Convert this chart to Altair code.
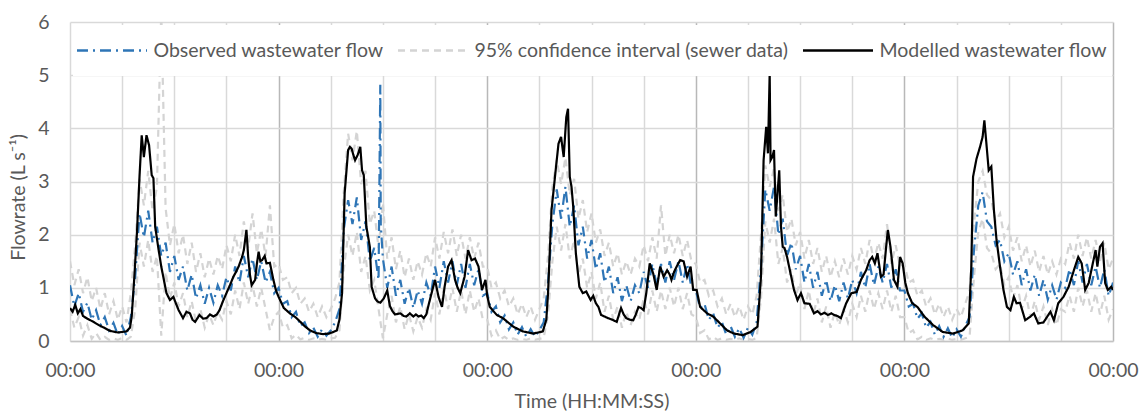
import altair as alt
import numpy as np
import pandas as pd

SERIES = ["Observed wastewater flow", "95% confidence interval (sewer data)", "Modelled wastewater flow"]
COLORS = ["#2e75b6", "#d4d4d4", "#000000"]
DASHES = [[11, 5, 2, 5], [7, 5], [1, 0]]

# Observed flow, sampled every 0.5 h (L/s)
obs_day1 = [1.05, 0.65, 0.90, 0.55, 0.72, 0.40, 0.58, 0.30, 0.45, 0.20, 0.34, 0.12, 0.28, 0.10, 0.45,
            1.20, 2.40, 1.95, 2.45, 1.85, 2.15, 1.60, 1.85, 1.30, 1.60,
            1.15, 1.40, 0.95, 1.25, 0.80, 1.05, 0.70, 1.00, 0.72, 1.05,
            0.85, 1.20, 0.95, 1.40, 1.10, 1.60, 1.20, 1.55, 1.15, 1.50,
            1.10, 1.30, 0.90]
obs_day2 = [1.00, 0.70, 0.75, 0.45, 0.55, 0.28, 0.35, 0.15, 0.25, 0.08, 0.22, 0.10, 0.20, 0.35, 0.60,
            2.10, 2.65, 2.20, 2.70, 1.90, 2.25, 1.50, 1.75, 1.15, 1.55,
            1.00, 1.40, 0.85, 1.15, 0.70, 1.00, 0.62, 0.95, 0.70, 1.10,
            0.85, 1.40, 1.00, 1.50, 1.10, 1.50, 1.05, 1.45, 1.00, 1.45,
            1.05, 1.35, 0.85]
obs_day3 = [0.90, 0.55, 0.65, 0.35, 0.48, 0.22, 0.35, 0.12, 0.26, 0.08, 0.22, 0.08, 0.20, 0.35, 1.10,
            2.20, 2.85, 2.30, 2.90, 2.15, 2.55, 1.80, 2.15, 1.55, 1.90,
            1.35, 1.65, 1.10, 1.40, 0.90, 1.20, 0.75, 1.05, 0.75, 1.05,
            0.90, 1.30, 1.00, 1.45, 1.05, 1.45, 1.10, 1.50, 1.15, 1.50,
            1.10, 1.45, 1.00]
obs_day4 = [0.95, 0.62, 0.70, 0.40, 0.52, 0.25, 0.36, 0.12, 0.28, 0.08, 0.24, 0.06, 0.25, 0.12, 0.35,
            1.40, 2.85, 2.45, 2.90, 2.00, 2.30, 1.60, 1.85, 1.35, 1.60,
            1.10, 1.45, 1.00, 1.30, 0.85, 1.15, 0.75, 1.05, 0.75, 1.10,
            0.80, 1.15, 0.90, 1.30, 1.00, 1.45, 1.05, 1.40, 1.10, 1.45,
            1.00, 1.35, 0.95]
obs_day5 = [0.95, 0.65, 0.70, 0.42, 0.52, 0.25, 0.36, 0.12, 0.28, 0.08, 0.24, 0.06, 0.22, 0.08, 0.28, 0.45,
            1.70, 2.55, 2.80, 2.25, 2.15, 1.80, 1.90, 1.50, 1.65, 1.25,
            1.50, 1.05, 1.35, 0.95, 1.25, 0.85, 1.15, 0.78, 1.05, 0.78,
            1.10, 1.00, 1.35, 1.05, 1.50, 1.10, 1.45, 1.05, 1.40, 1.00,
            1.35, 0.85, 1.10]
# isolated spike in the observed record
spike_hours = [35.7, 35.75]
spike_values = [4.82, 2.20]

# 95% confidence interval, upper bound (every 0.5 h)
up_day1 = [1.50, 1.05, 1.35, 0.90, 1.20, 0.75, 1.00, 0.60, 0.90, 0.50, 0.75, 0.40, 0.65, 0.35, 0.90,
           1.80, 3.05, 2.55, 3.20, 2.45, 2.90, 6.20, 2.50, 1.80, 2.20,
           1.65, 2.00, 1.45, 1.85, 1.30, 1.65, 1.20, 1.55, 1.25, 1.60,
           1.35, 1.80, 1.50, 2.00, 1.60, 2.25, 1.75, 2.40, 1.65, 2.10,
           1.60, 2.55, 1.40]
up_day2 = [1.45, 1.15, 1.20, 0.90, 1.00, 0.70, 0.80, 0.55, 0.70, 0.45, 0.65, 0.45, 0.60, 0.80, 1.10,
           2.80, 3.90, 3.40, 3.95, 2.95, 3.20, 2.20, 2.45, 1.75, 2.60,
           1.55, 1.95, 1.35, 1.70, 1.20, 1.55, 1.15, 1.50, 1.25, 1.65,
           1.40, 1.95, 1.55, 2.05, 1.65, 2.10, 1.60, 2.00, 1.55, 1.95,
           1.55, 1.85, 1.40]
up_day3 = [1.40, 1.00, 1.10, 0.80, 0.95, 0.65, 0.80, 0.50, 0.70, 0.45, 0.65, 0.40, 0.60, 0.80, 1.60,
           2.90, 3.40, 2.95, 3.45, 2.75, 3.05, 2.30, 2.65, 2.05, 2.40,
           1.85, 2.10, 1.60, 1.85, 1.40, 1.65, 1.25, 1.50, 1.25, 1.55,
           1.40, 1.80, 1.50, 1.95, 1.55, 2.55, 1.60, 2.00, 1.65, 2.00,
           1.60, 1.90, 1.50]
up_day4 = [1.45, 1.10, 1.15, 0.85, 0.95, 0.65, 0.80, 0.50, 0.70, 0.45, 0.65, 0.40, 0.65, 0.50, 0.85,
           2.00, 3.30, 2.90, 3.25, 2.45, 2.75, 2.05, 2.30, 1.80, 2.05,
           1.55, 1.90, 1.45, 1.75, 1.30, 1.60, 1.20, 1.50, 1.20, 1.55,
           1.25, 1.60, 1.35, 1.75, 1.45, 1.90, 1.50, 1.85, 1.55, 2.20,
           1.45, 1.80, 1.40]
up_day5 = [1.45, 1.10, 1.15, 0.85, 0.95, 0.65, 0.80, 0.50, 0.70, 0.45, 0.65, 0.40, 0.60, 0.45, 0.70, 0.95,
           2.20, 3.00, 3.20, 2.75, 2.65, 2.25, 2.40, 1.95, 2.15, 1.70,
           1.95, 1.50, 1.80, 1.40, 1.70, 1.30, 1.60, 1.25, 1.50, 1.25,
           1.55, 1.45, 1.85, 1.55, 2.00, 1.60, 1.95, 1.55, 1.90, 1.50,
           1.85, 1.35, 1.55]

# 95% confidence interval, lower bound (every 0.5 h)
lo_day1 = [0.60, 0.25, 0.45, 0.10, 0.30, 0.04, 0.15, 0.02, 0.08, 0.02, 0.05, 0.02, 0.06, 0.02, 0.08,
           0.60, 1.85, 1.40, 1.90, 1.30, 1.60, 0.10, 1.30, 0.80, 1.10,
           0.65, 0.90, 0.45, 0.75, 0.35, 0.60, 0.25, 0.50, 0.30, 0.55,
           0.40, 0.75, 0.50, 0.95, 0.60, 1.10, 0.70, 1.05, 0.65, 1.00,
           0.60, 0.20, 0.45]
lo_day2 = [0.55, 0.25, 0.30, 0.05, 0.12, 0.03, 0.06, 0.02, 0.05, 0.02, 0.04, 0.02, 0.05, 0.06, 0.20,
           1.35, 2.00, 1.60, 2.05, 1.30, 1.60, 0.95, 1.15, 0.60, 0.05,
           0.50, 0.85, 0.35, 0.65, 0.22, 0.50, 0.18, 0.45, 0.25, 0.60,
           0.40, 0.90, 0.50, 1.00, 0.60, 1.00, 0.55, 0.95, 0.50, 0.95,
           0.55, 0.80, 0.40]
lo_day3 = [0.40, 0.10, 0.20, 0.03, 0.08, 0.02, 0.05, 0.02, 0.04, 0.02, 0.05, 0.02, 0.04, 0.06, 0.50,
           1.50, 2.15, 1.70, 2.20, 1.55, 1.90, 1.25, 1.55, 1.00, 1.30,
           0.80, 1.10, 0.55, 0.85, 0.40, 0.65, 0.25, 0.55, 0.30, 0.55,
           0.40, 0.80, 0.50, 0.95, 0.55, 0.95, 0.60, 1.00, 0.65, 1.00,
           0.60, 0.90, 0.50]
lo_day4 = [0.45, 0.15, 0.20, 0.03, 0.08, 0.02, 0.05, 0.02, 0.04, 0.02, 0.05, 0.02, 0.04, 0.02, 0.06,
           0.80, 2.25, 1.85, 2.30, 1.45, 1.75, 1.10, 1.35, 0.85, 1.10,
           0.60, 0.95, 0.50, 0.80, 0.35, 0.65, 0.25, 0.55, 0.30, 0.60,
           0.35, 0.70, 0.45, 0.85, 0.55, 0.95, 0.60, 0.90, 0.60, 0.95,
           0.55, 0.85, 0.45]
lo_day5 = [0.45, 0.15, 0.20, 0.03, 0.08, 0.02, 0.05, 0.02, 0.04, 0.02, 0.05, 0.02, 0.04, 0.02, 0.05, 0.08,
           1.20, 2.05, 2.30, 1.75, 1.65, 1.35, 1.45, 1.05, 1.20, 0.80,
           1.05, 0.60, 0.85, 0.45, 0.75, 0.40, 0.65, 0.30, 0.60, 0.30,
           0.60, 0.55, 0.85, 0.55, 1.00, 0.65, 0.95, 0.55, 0.90, 0.50,
           0.85, 0.40, 0.60]

# Modelled flow: (hour, L/s)
mod_points = [
    (0.0, 0.62), (0.3, 0.55), (0.6, 0.68), (0.9, 0.52), (1.2, 0.60), (1.5, 0.47), (2.0, 0.42),
    (2.7, 0.36), (3.3, 0.30), (3.8, 0.26), (4.6, 0.19), (5.5, 0.16), (6.5, 0.18), (6.9, 0.25),
    (7.1, 0.46), (7.4, 1.20), (7.7, 2.03), (8.0, 3.10), (8.25, 3.87), (8.5, 3.46), (8.8, 3.87),
    (9.1, 3.68), (9.4, 3.12), (9.6, 3.06), (9.8, 2.15), (10.2, 1.71), (10.5, 1.40), (10.8, 1.15),
    (11.1, 0.90), (11.5, 0.77), (11.9, 0.83), (12.2, 0.70), (12.5, 0.58), (13.0, 0.43), (13.4, 0.55),
    (13.8, 0.52), (14.1, 0.40), (14.4, 0.36), (14.9, 0.49), (15.3, 0.42), (15.7, 0.43), (16.1, 0.50),
    (16.5, 0.46), (16.9, 0.50), (17.2, 0.58), (17.6, 0.75), (18.0, 0.90), (18.4, 1.05), (18.8, 1.21),
    (19.1, 1.30), (19.4, 1.40), (19.8, 1.58), (20.0, 1.71), (20.3, 2.09), (20.5, 1.58), (20.7, 1.25),
    (20.9, 1.05), (21.3, 1.15), (21.5, 1.45), (21.7, 1.68), (21.9, 1.50), (22.1, 1.52), (22.4, 1.60),
    (22.6, 1.46), (23.0, 1.47), (23.4, 1.15), (23.7, 0.95), (24.0, 0.83), (24.6, 0.62), (25.3, 0.52),
    (26.0, 0.44), (26.5, 0.36), (27.0, 0.28), (27.6, 0.20), (28.3, 0.15), (29.1, 0.13), (29.8, 0.14),
    (30.3, 0.17), (30.7, 0.20), (31.0, 0.40), (31.3, 0.90), (31.6, 2.78), (32.0, 3.59), (32.2, 3.65),
    (32.4, 3.62), (32.6, 3.50), (32.8, 3.40), (33.1, 3.50), (33.4, 3.65), (33.6, 3.21), (33.8, 3.12),
    (34.1, 2.15), (34.5, 1.77), (34.7, 1.02), (35.1, 0.80), (35.4, 0.74), (35.7, 0.72), (36.1, 0.80),
    (36.5, 0.95), (36.8, 0.66), (37.1, 0.56), (37.4, 0.50), (38.0, 0.52), (38.4, 0.47), (38.7, 0.46),
    (39.1, 0.52), (39.5, 0.46), (39.8, 0.50), (40.1, 0.46), (40.4, 0.48), (40.7, 0.43), (41.0, 0.50),
    (41.2, 0.64), (41.6, 0.90), (42.0, 1.15), (42.4, 0.83), (42.8, 0.64), (43.1, 1.02), (43.5, 1.40),
    (43.9, 1.52), (44.3, 1.15), (44.6, 1.00), (44.9, 0.90), (45.4, 1.21), (45.8, 1.71), (46.2, 1.52),
    (46.6, 1.55), (47.0, 1.40), (47.4, 0.96), (47.8, 1.15), (48.0, 0.85), (48.3, 0.64), (49.1, 0.49),
    (49.8, 0.43), (50.4, 0.35), (51.0, 0.27), (52.1, 0.18), (53.3, 0.14), (54.4, 0.18), (54.8, 0.40),
    (55.0, 0.90), (55.4, 2.46), (55.8, 3.09), (56.2, 3.71), (56.5, 3.84), (56.8, 3.46), (57.1, 4.21),
    (57.3, 4.37), (57.5, 3.09), (57.7, 2.90), (57.9, 2.52), (58.2, 1.65), (58.6, 1.02), (59.0, 0.90),
    (59.4, 0.93), (59.9, 0.77), (60.2, 0.85), (60.5, 0.71), (60.8, 0.64), (61.1, 0.49), (61.5, 0.46),
    (61.9, 0.43), (62.4, 0.40), (62.9, 0.36), (63.4, 0.62), (63.7, 0.50), (64.0, 0.43), (64.4, 0.40),
    (64.8, 0.39), (65.1, 0.50), (65.4, 0.64), (65.7, 0.62), (66.0, 0.58), (66.3, 0.90), (66.7, 1.46),
    (67.1, 1.27), (67.5, 0.96), (67.9, 1.40), (68.3, 1.21), (68.7, 1.33), (69.0, 1.25), (69.2, 1.15),
    (69.5, 1.30), (69.8, 1.40), (70.2, 1.52), (70.6, 1.50), (71.0, 1.21), (71.4, 1.40), (71.7, 0.96),
    (72.1, 0.96), (72.5, 0.64), (73.3, 0.52), (74.0, 0.46), (74.8, 0.33), (75.6, 0.20), (76.4, 0.14),
    (77.4, 0.11), (78.3, 0.17), (79.1, 0.27), (79.5, 1.21), (79.8, 3.40), (80.1, 4.03), (80.3, 3.53),
    (80.5, 5.03), (80.6, 3.40), (80.8, 3.46), (81.0, 3.59), (81.2, 2.34), (81.4, 2.78), (81.6, 3.21),
    (81.8, 2.15), (82.0, 1.77), (82.2, 1.75), (82.5, 1.58), (82.9, 1.27), (83.3, 0.96), (83.7, 0.77),
    (84.1, 0.90), (84.5, 0.71), (85.1, 0.70), (85.6, 0.52), (86.0, 0.56), (86.4, 0.50), (86.8, 0.53),
    (87.2, 0.49), (87.6, 0.52), (87.9, 0.49), (88.3, 0.47), (88.7, 0.43), (89.3, 0.71), (89.9, 0.90),
    (90.5, 0.92), (91.0, 1.15), (91.6, 1.33), (92.0, 1.52), (92.3, 1.58), (92.6, 1.46), (92.9, 1.65),
    (93.3, 1.21), (93.6, 1.25), (93.9, 1.77), (94.1, 2.09), (94.4, 1.77), (94.8, 1.15), (95.2, 1.02),
    (95.5, 1.58), (95.8, 1.46), (96.1, 1.10), (96.4, 0.90), (96.9, 0.71), (97.5, 0.64), (98.3, 0.46),
    (99.3, 0.30), (100.4, 0.17), (101.6, 0.14), (102.7, 0.20), (103.4, 0.33), (103.7, 1.40), (103.9, 3.09),
    (104.3, 3.43), (104.7, 3.65), (105.0, 3.84), (105.2, 4.15), (105.4, 3.78), (105.7, 3.21), (106.0, 3.28),
    (106.3, 2.46), (106.6, 1.90), (107.0, 1.40), (107.4, 0.96), (107.8, 0.64), (108.2, 0.58), (108.6, 0.83),
    (108.9, 0.71), (109.3, 0.72), (109.9, 0.39), (110.5, 0.46), (110.9, 0.52), (111.4, 0.33), (112.0, 0.35),
    (112.8, 0.55), (113.2, 0.39), (113.7, 0.71), (114.3, 0.83), (114.9, 1.02), (115.5, 1.33), (116.0, 1.58),
    (116.4, 1.46), (116.8, 0.96), (117.2, 1.09), (117.6, 1.40), (118.0, 1.71), (118.2, 1.40), (118.5, 1.77),
    (118.8, 1.84), (119.1, 1.09), (119.4, 0.96), (119.8, 1.02), (120.0, 0.96),
]

X_TICKS = list(range(0, 121, 6))
Y_TICKS = [0, 1, 2, 3, 4, 5, 6]

observed = obs_day1 + obs_day2 + obs_day3 + obs_day4 + obs_day5
upper = up_day1 + up_day2 + up_day3 + up_day4 + up_day5
lower = lo_day1 + lo_day2 + lo_day3 + lo_day4 + lo_day5
assert len(observed) == 241 and len(upper) == 241 and len(lower) == 241, (len(observed), len(upper), len(lower))
half_hours = np.arange(241) * 0.5

obs_df = pd.DataFrame({"h": list(half_hours) + spike_hours, "v": observed + spike_values})
obs_df["series"] = SERIES[0]
obs_df = obs_df.sort_values("h")

ci_df = pd.concat([
    pd.DataFrame({"h": half_hours, "v": upper, "part": "upper"}),
    pd.DataFrame({"h": half_hours, "v": lower, "part": "lower"}),
])
ci_df["series"] = SERIES[1]

mod_df = pd.DataFrame(mod_points, columns=["h", "v"])
mod_df["series"] = SERIES[2]

TXT = "#595959"
FONT = "Lato"
FS = 19.5

x_axis = alt.Axis(
    values=X_TICKS,
    labelExpr="datum.value % 24 === 0 ? '00:00' : ''",
    labelOverlap=False, labelFlush=False,
    grid=True,
    gridColor={"condition": {"test": "datum.value % 24 === 0 && datum.value > 0", "value": "#b8b8b8"}, "value": "#d9d9d9"},
    gridWidth=1.5,
    ticks=False, domain=True, domainColor="#c4c4c4", domainWidth=1.5,
    labelPadding=20, labelFontSize=FS, labelColor=TXT, labelFont=FONT,
    title="Time (HH:MM:SS)", titleFontSize=FS, titleColor=TXT, titleFont=FONT,
    titleFontWeight="normal", titleY=60, titleBaseline="middle",
)
y_axis = alt.Axis(
    values=Y_TICKS, grid=True, gridColor="#d9d9d9", gridWidth=1.5,
    ticks=False, domain=False,
    labelPadding=21, labelFontSize=FS, labelColor=TXT, labelFont=FONT,
    title="Flowrate (L s⁻¹)", titleFontSize=FS, titleColor=TXT, titleFont=FONT,
    titleFontWeight="normal", titleX=-52, titleY=175, titleAngle=270,
    titleAlign="center", titleBaseline="middle",
)

legend = alt.Legend(
    title=None, orient="none", legendX=3, legendY=3, direction="horizontal",
    symbolType="M-1.75,0H1.75", symbolSize=1600, symbolStrokeWidth=2.5,
    symbolOffset=13.5, labelOffset=20, columnPadding=14, padding=4, clipHeight=43,
    fillColor="white", labelFont=FONT, labelFontSize=FS, labelColor=TXT,
    labelLimit=500, zindex=3,
)

X = alt.X("h:Q", scale=alt.Scale(domain=[0, 120], nice=False, zero=False), axis=x_axis)
Y = alt.Y("v:Q", scale=alt.Scale(domain=[0, 6], nice=False, zero=True), axis=y_axis)
C = alt.Color("series:N", scale=alt.Scale(domain=SERIES, range=COLORS), legend=legend)
D = alt.StrokeDash("series:N", scale=alt.Scale(domain=SERIES, range=DASHES), legend=legend)

ci = alt.Chart(ci_df).mark_line(clip=True, strokeWidth=2.2).encode(x=X, y=Y, color=C, strokeDash=D, detail="part:N")
obs = alt.Chart(obs_df).mark_line(clip=True, strokeWidth=2.2).encode(x=X, y=Y, color=C, strokeDash=D)
mod = alt.Chart(mod_df).mark_line(clip=True, strokeWidth=2.2).encode(x=X, y=Y, color=C, strokeDash=D)

chart = (
    alt.layer(ci, obs, mod)
    .properties(
        width=1043, height=319,
        autosize=alt.AutoSizeParams(type="none"),
        padding={"left": 70, "top": 22, "right": 28, "bottom": 71},
        background="white",
    )
    .configure(font=FONT)
    .configure_view(stroke=None)
)

chart.save("out.html", embed_options={"renderer": "svg", "actions": False})
